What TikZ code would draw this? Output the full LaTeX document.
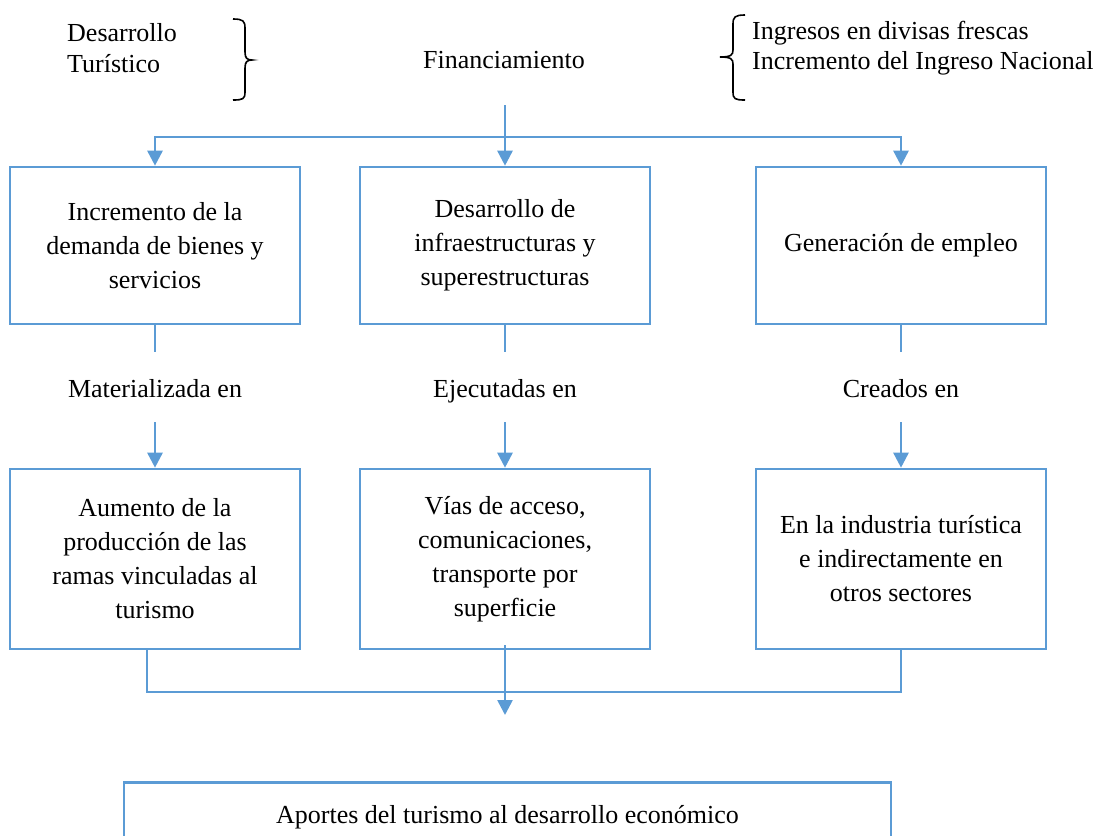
\documentclass[tikz,border=0pt]{standalone}
\usepackage{fontspec}
\setmainfont{Liberation Serif}
\usetikzlibrary{arrows.meta,calc}
\definecolor{lblue}{HTML}{5B9BD5}
\begin{document}
\begin{tikzpicture}[x=1pt,y=-1pt,
  box/.style={draw=lblue,line width=2.6pt,minimum width=290pt,align=center,inner sep=0pt,font=\fontsize{26}{34}\selectfont},
  lbl/.style={font=\fontsize{26}{30.5}\selectfont,inner sep=0pt,align=left},
  mid/.style={font=\fontsize{26}{30}\selectfont,inner sep=0pt,text height=26pt,text depth=6pt,minimum height=70pt},
  conn/.style={draw=lblue,line width=2.6pt},
  arr/.style={conn,-{Triangle[length=15pt,width=15pt]}},
  brace/.style={draw=black,line width=1.6pt}]
\useasboundingbox (0,0) rectangle (1097,835);
\clip (0,0) rectangle (1097,835);

% top texts
\node[lbl,anchor=west] (dt) at (67,48) {Desarrollo\\Turístico};
\node[lbl] (fin) at (504,60) {Financiamiento};
\node[lbl,anchor=west] (ing) at (752,48) {Ingresos en divisas frescas\\Incremento del Ingreso Nacional};

% braces
\draw[brace] (233,19) .. controls (243,19) and (245,21) .. (245,28) -- (245,52)
  .. controls (245,58) and (247,60) .. (252,60)
  .. controls (247,60) and (245,62) .. (245,68) -- (245,92)
  .. controls (245,99) and (243,100) .. (233,100);
\draw[brace] (745,15) .. controls (735,15) and (733,17) .. (733,24) -- (733,50)
  .. controls (733,55) and (731,57) .. (720,57)
  .. controls (731,57) and (733,59) .. (733,64) -- (733,92)
  .. controls (733,99) and (735,100) .. (745,100);

% first row boxes
\node[box,minimum height=157pt] (b1) at (155,245.5) {Incremento de la\\demanda de bienes y\\servicios};
\node[box,minimum height=157pt] (b2) at (505,245.5) {Desarrollo de\\infraestructuras y\\superestructuras};
\node[box,minimum height=157pt] (b3) at (901,245.5) {Generación de empleo};

% labels
\node[mid] (m1) at (155,387) {Materializada en};
\node[mid] (m2) at (505,387) {Ejecutadas en};
\node[mid] (m3) at (901,387) {Creados en};

% second row boxes
\node[box,minimum height=180pt] (b4) at (155,559) {Aumento de la\\producción de las\\ramas vinculadas al\\turismo};
\node[box,minimum height=180pt] (b5) at (505,559) {Vías de acceso,\\comunicaciones,\\transporte por\\superficie};
\node[box,minimum height=180pt] (b6) at (901,559) {En la industria turística\\e indirectamente en\\otros sectores};

% bottom box
\node[box,minimum width=767pt,minimum height=70pt,anchor=north] (b7) at (507.5,781) {Aportes del turismo al desarrollo económico};

% connectors top
\coordinate (top) at (505,105);
\coordinate (h) at (505,137);
\draw[arr] (top) -- (b2.north);
\draw[arr] (h) -| (b1.north);
\draw[arr] (h) -| (b3.north);

% middle connectors
\draw[conn] (b1.south) -- (m1.north);
\draw[conn] (b2.south) -- (m2.north);
\draw[conn] (b3.south) -- (m3.north);
\draw[arr] (m1.south) -- (b4.north);
\draw[arr] (m2.south) -- (b5.north);
\draw[arr] (m3.south) -- (b6.north);

% bottom connectors
\coordinate (jl) at (147,692);
\coordinate (jm) at (505,715);
\draw[conn] (b4.south -| jl) |- (b6.south |- jl) -- (b6.south);
\draw[arr] ([yshift=5pt]b5.south) -- (jm);
\end{tikzpicture}
\end{document}
